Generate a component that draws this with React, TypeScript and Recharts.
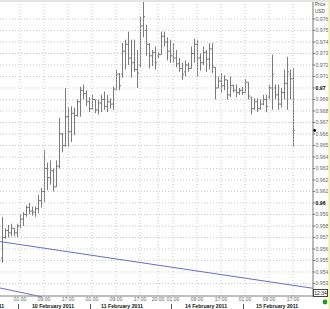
import React from 'react';
import {
  ComposedChart,
  Bar,
  XAxis,
  YAxis,
  CartesianGrid,
  ReferenceLine,
  ReferenceDot,
} from 'recharts';

// hourly bars, 9 Feb 19:00 .. 15 Feb 17:00 (weekend gap removed)
const highs = [
  0.9588, 0.9578, 0.9581, 0.9582, 0.9578, 0.9582, 0.959, 0.9592, 0.9598, 0.96,
  0.9597, 0.9597, 0.9607, 0.9613, 0.9646, 0.9635, 0.9637, 0.963, 0.9637, 0.9674,
  0.9661, 0.97, 0.9683, 0.9684, 0.9683, 0.969, 0.9701, 0.9703, 0.9698, 0.9692,
  0.9694, 0.969, 0.969, 0.9694, 0.9697, 0.9694, 0.9691, 0.9701, 0.9716, 0.9713,
  0.9739, 0.9742, 0.9749, 0.9742, 0.9742, 0.9733, 0.9762, 0.9775, 0.9755, 0.9739,
  0.9733, 0.9736, 0.9731, 0.9749, 0.9749, 0.9744, 0.9742, 0.9739, 0.9733, 0.9726,
  0.9722, 0.9724, 0.9722, 0.9736, 0.9743, 0.9742, 0.973, 0.9736, 0.9733, 0.9739,
  0.9739, 0.9718, 0.971, 0.9713, 0.9711, 0.9707, 0.971, 0.9703, 0.9703, 0.97,
  0.9701, 0.9708, 0.9705, 0.9692, 0.9691, 0.9691, 0.969, 0.9694, 0.9694, 0.9703,
  0.9729, 0.9703, 0.9703, 0.97, 0.9716, 0.9727, 0.9716, 0.9717,
];
const lows = [
  0.9548, 0.9569, 0.957, 0.9571, 0.9571, 0.957, 0.9578, 0.958, 0.9588, 0.959,
  0.9589, 0.9588, 0.9591, 0.9596, 0.9601, 0.9611, 0.9616, 0.961, 0.9614, 0.963,
  0.9644, 0.9649, 0.9649, 0.9653, 0.9659, 0.9675, 0.9675, 0.969, 0.9684, 0.9679,
  0.9681, 0.9678, 0.9677, 0.9679, 0.9681, 0.9679, 0.9682, 0.9681, 0.9698, 0.9698,
  0.9709, 0.9716, 0.972, 0.9709, 0.9714, 0.97, 0.9718, 0.9744, 0.9728, 0.9717,
  0.9719, 0.9716, 0.9726, 0.9729, 0.9736, 0.9724, 0.9722, 0.9722, 0.9718, 0.9714,
  0.9707, 0.971, 0.9714, 0.9717, 0.9722, 0.971, 0.9715, 0.972, 0.9714, 0.9716,
  0.9713, 0.969, 0.97, 0.9696, 0.9698, 0.969, 0.9692, 0.9696, 0.9692, 0.9694,
  0.9694, 0.9696, 0.969, 0.9677, 0.9681, 0.9679, 0.9681, 0.9685, 0.9679, 0.969,
  0.9681, 0.969, 0.9681, 0.9683, 0.969, 0.9681, 0.969, 0.9649,
];
const opens = [
  0.9552, 0.957, 0.9576, 0.9574, 0.9578, 0.9574, 0.958, 0.9586, 0.959, 0.9596,
  0.9593, 0.9592, 0.9595, 0.9602, 0.961, 0.963, 0.9622, 0.9628, 0.9614, 0.9632,
  0.966, 0.965, 0.9675, 0.9662, 0.9678, 0.9676, 0.9688, 0.9698, 0.9695, 0.9688,
  0.9682, 0.969, 0.9681, 0.9687, 0.969, 0.9684, 0.9688, 0.9686, 0.9699, 0.9712,
  0.9712, 0.9732, 0.9738, 0.9726, 0.9722, 0.9716, 0.972, 0.9754, 0.975, 0.9738,
  0.9728, 0.9731, 0.9728, 0.9729, 0.9745, 0.974, 0.9732, 0.9728, 0.9726, 0.9721,
  0.9717, 0.9714, 0.972, 0.9717, 0.973, 0.9738, 0.9726, 0.9722, 0.9731, 0.9725,
  0.9734, 0.9718, 0.97, 0.9706, 0.9702, 0.9707, 0.9694, 0.9702, 0.9698, 0.9696,
  0.9698, 0.9696, 0.9705, 0.9692, 0.9682, 0.9688, 0.9682, 0.9686, 0.969, 0.9692,
  0.97, 0.97, 0.9694, 0.9686, 0.9696, 0.9704, 0.9712, 0.9708,
];
const closes = [
  0.957, 0.9576, 0.9574, 0.9578, 0.9574, 0.958, 0.9586, 0.959, 0.9596, 0.9593,
  0.9592, 0.9595, 0.9602, 0.961, 0.963, 0.9622, 0.9628, 0.9614, 0.9632, 0.966,
  0.965, 0.9675, 0.9662, 0.9678, 0.9676, 0.9688, 0.9698, 0.9695, 0.9688, 0.9682,
  0.969, 0.9681, 0.9687, 0.969, 0.9684, 0.9688, 0.9686, 0.9699, 0.9712, 0.9702,
  0.9732, 0.9738, 0.9726, 0.9722, 0.9716, 0.9713, 0.9754, 0.9762, 0.9738, 0.9728,
  0.9731, 0.9722, 0.9729, 0.9745, 0.974, 0.9732, 0.9728, 0.9726, 0.9721, 0.9717,
  0.9712, 0.972, 0.9717, 0.973, 0.9738, 0.9726, 0.9722, 0.9731, 0.9725, 0.9734,
  0.9718, 0.97, 0.9706, 0.9702, 0.9707, 0.9694, 0.9702, 0.9698, 0.9696, 0.9698,
  0.9696, 0.9705, 0.9693, 0.9682, 0.9688, 0.9682, 0.9686, 0.969, 0.9684, 0.97,
  0.9712, 0.9694, 0.9686, 0.9696, 0.9704, 0.9714, 0.9708, 0.9663,
];

// time axis: bar index of each labelled hour
const timeTicks = [6, 14, 22, 30, 38, 46, 52, 57, 65, 73, 81, 89, 97];
const timeLabels = [
  '01:00', '09:00', '17:00', '01:00', '09:00', '17:00', '20:00',
  '01:00', '09:00', '17:00', '01:00', '09:00', '17:00',
];
const dayBreaks = [5.5, 29.5, 56.5, 80.5];
const dateTicks = [-0.6, 17, 40, 68, 91.7];
const dateLabels = [
  '9 February 2011',
  '10 February 2011',
  '11 February 2011',
  '14 February 2011',
  '15 February 2011',
];

const priceTicks = [
  0.953, 0.954, 0.955, 0.956, 0.957, 0.958, 0.959, 0.96, 0.961, 0.962, 0.963, 0.964,
  0.965, 0.966, 0.967, 0.968, 0.969, 0.97, 0.971, 0.972, 0.973, 0.974, 0.975, 0.976,
];

// drawn trend lines: [index, price] end points
const trendA = [[-0.667, 0.95664], [103.667, 0.95258]];
const trendB = [[-0.667, 0.95261], [13.33, 0.95183]];

const data = highs.map((h, i) => ({
  idx: i,
  high: h,
  low: lows[i],
  open: opens[i],
  close: closes[i],
}));

const FONT = 'Liberation Sans, Arial, sans-serif';
const allXTicks = [...timeTicks, ...dayBreaks, ...dateTicks].sort((a, b) => a - b);

const OhlcShape = (props: any) => {
  const { x, y, width, height, payload } = props;
  const cx = Math.round(x + width / 2) + 0.5;
  const top = height < 0 ? y + height : y;
  const h = Math.abs(height);
  const range = payload.high - payload.low || 1;
  const yOf = (v: number) => top + ((payload.high - v) / range) * h;
  const yo = yOf(payload.open);
  const yc = yOf(payload.close);
  return (
    <g stroke="#7b7b7b" strokeWidth={1}>
      <line x1={cx} x2={cx} y1={top} y2={top + Math.max(h, 1)} />
      <line x1={cx - 1.5} x2={cx} y1={yo} y2={yo} />
      <line x1={cx} x2={cx + 1.5} y1={yc} y2={yc} />
    </g>
  );
};

const XTick = (props: any) => {
  const { x, y, payload } = props;
  const v = payload.value;
  const ti = timeTicks.indexOf(v);
  if (ti >= 0) {
    return (
      <text x={x} y={y + 5} textAnchor="middle" fontSize={5} fill="#666" fontFamily={FONT}>
        {timeLabels[ti]}
      </text>
    );
  }
  const di = dateTicks.indexOf(v);
  if (di >= 0) {
    return (
      <text
        x={di === 0 ? x + 4 : x}
        y={y + 12}
        textAnchor={di === 0 ? 'end' : 'middle'}
        fontSize={5.2}
        fontWeight="bold"
        fill="#111"
        fontFamily={FONT}
      >
        {dateLabels[di]}
      </text>
    );
  }
  if (dayBreaks.includes(v)) {
    return <line x1={x} x2={x} y1={y + 8} y2={y + 13} stroke="#555" />;
  }
  return <g />;
};

const YTick = (props: any) => {
  const { x, y, payload } = props;
  const v = payload.value;
  const round = Math.abs(v * 100 - Math.round(v * 100)) < 1e-6;
  return (
    <text
      x={x}
      y={y}
      dy={1.8}
      textAnchor="start"
      fontSize={5.2}
      fill={round ? '#000' : '#666'}
      fontWeight={round ? 'bold' : 'normal'}
      fontFamily={FONT}
    >
      {round ? v.toFixed(2) : v.toFixed(3)}
    </text>
  );
};

const App = () => {
  return (
    <div
      style={{
        position: 'absolute',
        left: 0,
        top: 0,
        width: 330,
        height: 309,
        background: '#fff',
        overflow: 'hidden',
      }}
    >
      <ComposedChart
        width={330}
        height={309}
        data={data}
        margin={{ top: 0, right: 0, bottom: 0, left: 0 }}
      >
        <CartesianGrid vertical={false} stroke="#c9c9c9" strokeDasharray="1 2" />
        {timeTicks.map((t) => (
          <ReferenceLine key={t} x={t} stroke="#c9c9c9" strokeDasharray="1 2" />
        ))}
        <XAxis
          type="number"
          dataKey="idx"
          domain={[-2 / 3, 313 / 3 - 2 / 3]}
          allowDataOverflow
          ticks={allXTicks}
          interval={0}
          tick={<XTick />}
          tickLine={false}
          tickSize={0}
          tickMargin={0}
          height={13}
          axisLine={{ stroke: '#888' }}
        />
        <YAxis
          orientation="right"
          type="number"
          domain={[0.95191, 0.97765]}
          allowDataOverflow
          ticks={priceTicks}
          interval={0}
          width={17}
          tickSize={2}
          tickMargin={0.5}
          tick={<YTick />}
          tickLine={{ stroke: '#777' }}
          axisLine={{ stroke: '#777' }}
        />
        <Bar
          dataKey={(d: any) => [d.low, d.high]}
          barSize={3}
          shape={<OhlcShape />}
          isAnimationActive={false}
        />
        <ReferenceLine
          segment={[
            { x: trendA[0][0], y: trendA[0][1] },
            { x: trendA[1][0], y: trendA[1][1] },
          ]}
          stroke="#6b6bcc"
          strokeWidth={1}
          ifOverflow="visible"
        />
        <ReferenceLine
          segment={[
            { x: trendB[0][0], y: trendB[0][1] },
            { x: trendB[1][0], y: trendB[1][1] },
          ]}
          stroke="#6b6bcc"
          strokeWidth={1}
          ifOverflow="visible"
        />
        <ReferenceDot
          x={104.2}
          y={closes[closes.length - 1]}
          r={1.4}
          fill="#000"
          stroke="none"
          ifOverflow="visible"
        />
      </ComposedChart>
      <svg
        width={330}
        height={309}
        style={{ position: 'absolute', left: 0, top: 0, pointerEvents: 'none' }}
      >
        <rect x={0} y={0} width={330} height={2} fill="#e4e4e4" />
        <text x={315} y={6} fontSize={4.6} fill="#444" fontFamily={FONT}>Price</text>
        <text x={315} y={12.5} fontSize={4.6} fill="#444" fontFamily={FONT}>USD</text>
        <rect x={313.5} y={289.5} width={14} height={7} fill="#fff" stroke="#444" />
        <text x={320.5} y={295} textAnchor="middle" fontSize={5} fill="#222" fontFamily={FONT}>12:34</text>
        <circle cx={325} cy={302} r={2.4} fill="#1e9a1e" />
        <rect x={328.5} y={0} width={1.5} height={309} fill="#eeee9a" />
      </svg>
    </div>
  );
};

export default App;
